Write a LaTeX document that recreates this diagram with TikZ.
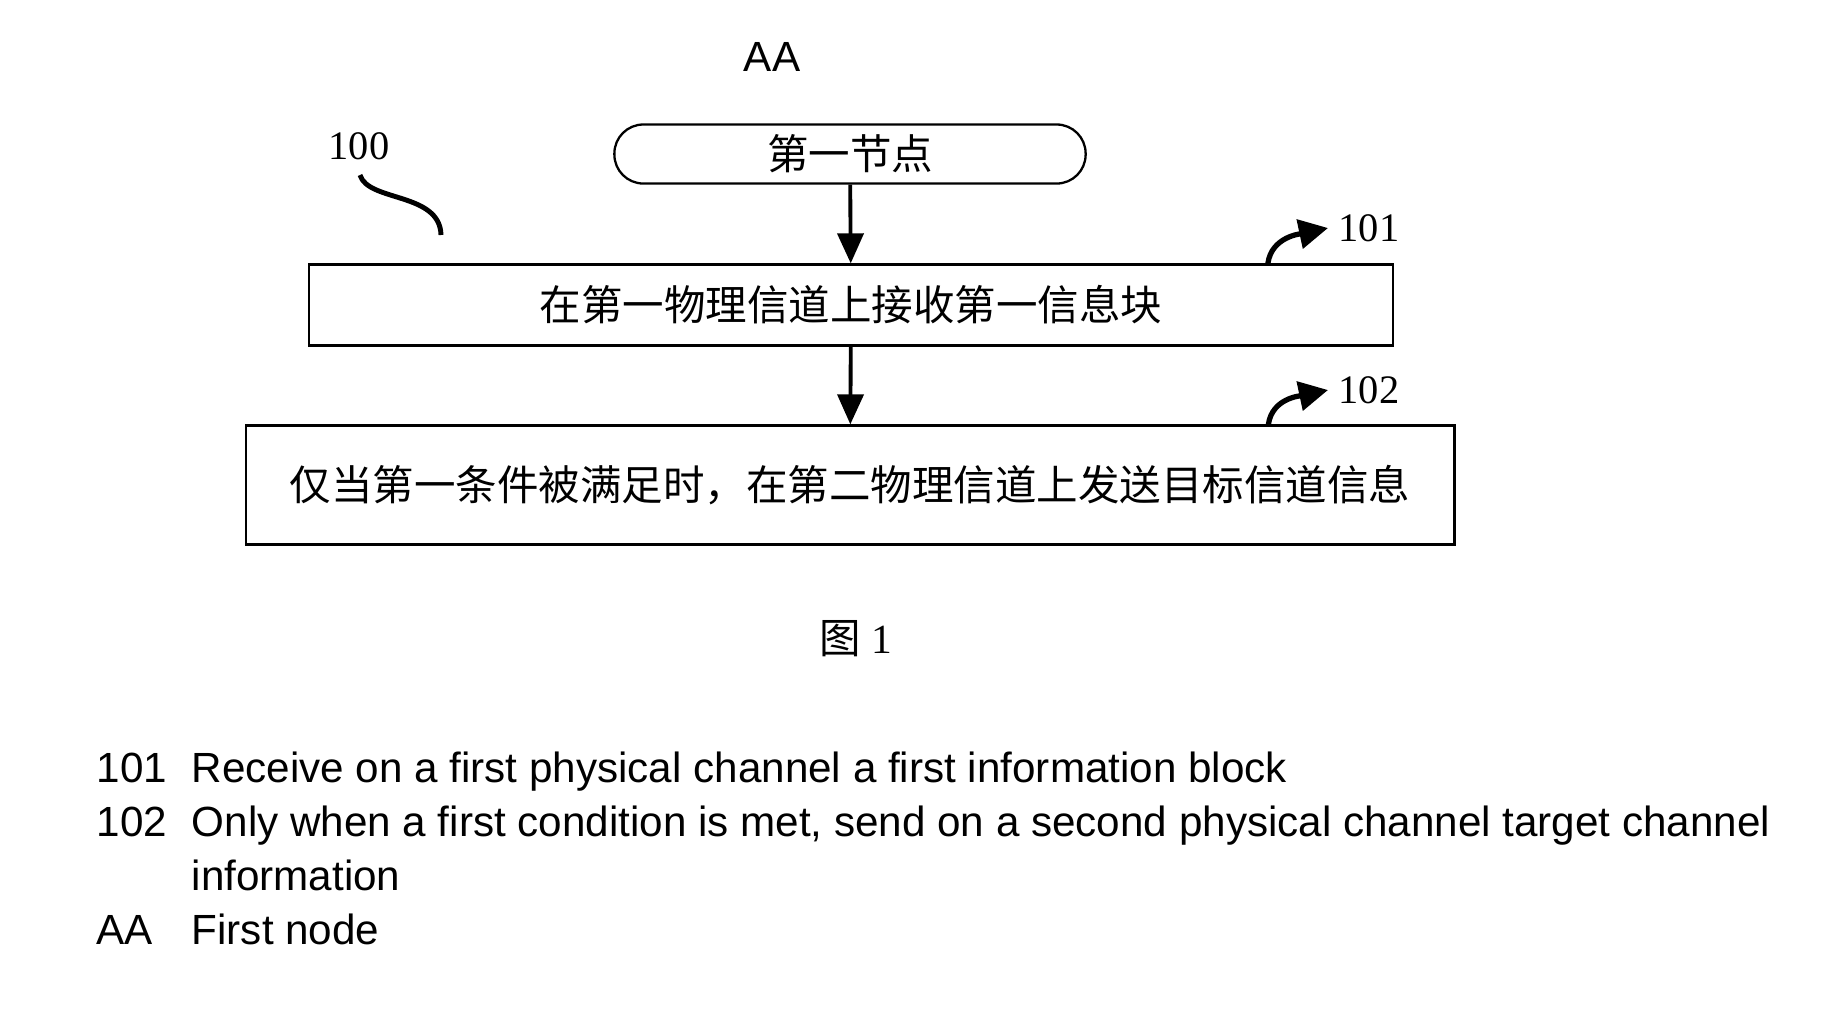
\documentclass[tikz,border=0pt]{standalone}
\usepackage{fontspec}
\setmainfont{Liberation Serif}
\newfontfamily\sansf{Liberation Sans}
\newfontfamily\cjk{Noto Sans CJK SC}
\usetikzlibrary{arrows.meta,positioning}
\tikzset{
  stepnode/.style={rectangle, draw=black, line width=0.65pt, fill=white,
    font=\cjk\fontsize{11.8}{14}\selectfont, align=center, inner sep=0pt},
  startnode/.style={stepnode, rounded corners=0.29cm},
  refnum/.style={font=\fontsize{11.5}{14}\selectfont, inner sep=0pt},
  reflabel/.style={refnum, inner sep=0.1cm, anchor=west},
  legendtext/.style={font=\sansf\fontsize{12}{14}\selectfont, anchor=base west, inner sep=0pt},
  flowedge/.style={-{Triangle[length=3mm,width=2.6mm]}, draw=black, line width=1.1pt},
  hookedge/.style={-{Triangle[length=2.9mm,width=2.9mm]}, draw=black, line width=1.5pt},
  waveline/.style={draw=black, line width=1.4pt},
}
\begin{document}
\begin{tikzpicture}[x=0.01cm, y=-0.01cm]
  \useasboundingbox[fill=white] (0,0) rectangle (1834,1032);
  % flow chart
  \node[font=\sansf\fontsize{12}{14}\selectfont, inner sep=0pt] (aa) at (772,57) {AA};
  \node[startnode, minimum width=4.71cm, minimum height=0.59cm] (start) at (850,154) {第一节点};
  \node[stepnode, minimum width=10.83cm, minimum height=0.81cm] (recv) at (851,305) {在第一物理信道上接收第一信息块};
  \node[stepnode, minimum width=12.08cm, minimum height=1.19cm] (send) at (850,485) {仅当第一条件被满足时，在第二物理信道上发送目标信道信息};
  \draw[flowedge] (start) -- (recv);
  \draw[flowedge] (recv) -- (send);
  % reference numerals
  \node[refnum] (n100) at (359,146) {100};
  \coordinate (w100) at (360,175);
  \coordinate (w100end) at (441,235);
  \draw[waveline] (w100) .. controls (368,202) and (440,192) .. (w100end);
  \node[reflabel] (n101) at (1328,228) {101};
  \node[reflabel] (n102) at (1328,390) {102};
  \coordinate (hook101) at ([xshift=-1.26cm]recv.north east);
  \coordinate (hook102) at ([xshift=-1.87cm]send.north east);
  \draw[hookedge] (hook101) to[out=82, in=192] (n101.west);
  \draw[hookedge] (hook102) to[out=82, in=192] (n102.west);
  \node[inner sep=0pt, font=\fontsize{11.8}{14}\selectfont] (fig) at (856,639) {{\cjk 图}\ 1};
  % legend
  \node[legendtext] (k101) at (96,782) {101};
  \node[legendtext] (t101) at (191,782) {Receive on a first physical channel a first information block};
  \node[legendtext] (k102) at (96,836) {102};
  \node[legendtext] (t102) at (191,836) {Only when a first condition is met, send on a second physical channel target channel};
  \node[legendtext] (t102b) at (191,890) {information};
  \node[legendtext] (kaa) at (96,944) {AA};
  \node[legendtext] (taa) at (191,944) {First node};
\end{tikzpicture}
\end{document}
